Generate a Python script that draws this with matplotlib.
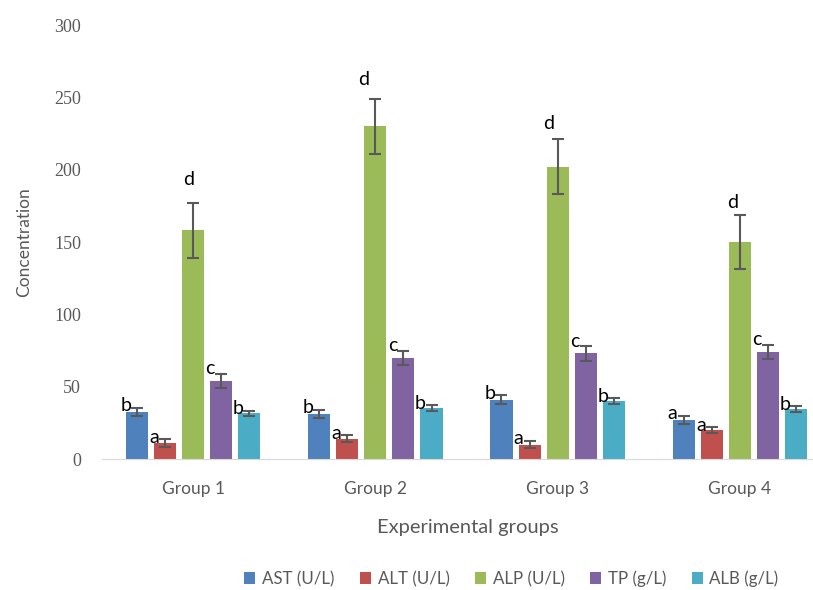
import numpy as np
import matplotlib.pyplot as plt

groups = ['Group 1', 'Group 2', 'Group 3', 'Group 4']
series = ['AST (U/L)', 'ALT (U/L)', 'ALP (U/L)', 'TP (g/L)', 'ALB (g/L)']
colors = ['#4F81BD', '#C0504D', '#9BBB59', '#8064A2', '#4BACC6']

ast = [32.5, 31, 41, 27]
alt = [11, 14, 10, 20]
alp = [158, 230, 202, 150]
tp = [54, 70, 73, 74]
alb = [31.5, 35, 40, 34.5]

ast_err = [3, 3, 3, 3]
alt_err = [2.5, 2.5, 2.5, 2]
alp_err = [19, 19, 19, 19]
tp_err = [5, 5, 5, 5]
alb_err = [2, 2, 2, 2]

ast_let = ['b', 'b', 'b', 'a']
alt_let = ['a', 'a', 'a', 'a']
alp_let = ['d', 'd', 'd', 'd']
tp_let = ['c', 'c', 'c', 'c']
alb_let = ['b', 'b', 'b', 'b']

values = [ast, alt, alp, tp, alb]
errors = [ast_err, alt_err, alp_err, tp_err, alb_err]
letters = [ast_let, alt_let, alp_let, tp_let, alb_let]

# the letters above the ALP bars were placed by hand in the original (points)
alp_off = [(-3.5, 17), (-8.5, 14), (-6.5, 11.5), (-5, 9)]

fig = plt.figure(figsize=(8.13, 5.9), dpi=100)
# the original picture is cut off on the right, so the axes run past the edge
ax = fig.add_axes([102 / 813, 131 / 590, 729 / 813, 434 / 590])

x = np.arange(len(groups))
width = 0.121
step = 0.154

for i in range(len(series)):
    pos = x + (i - 2) * step
    ax.bar(pos, values[i], width, color=colors[i], label=series[i], zorder=2)
    ax.errorbar(pos, values[i], yerr=errors[i], fmt='none', ecolor='#595959',
                elinewidth=1.5, capsize=4, capthick=1.5, zorder=3)
    for j in range(len(groups)):
        top = values[i][j] + errors[i][j]
        if i == 2:
            off = alp_off[j]
            xp = pos[j]
        else:
            off = (0, 3.5 if i == 3 else 1.5)
            xp = pos[j] - width / 2
        ax.annotate(letters[i][j], (xp, top), xytext=off, textcoords='offset points',
                    ha='center', va='center', fontsize=14, family='Lato', color='black')

ax.set_xlim(-0.5, 3.5)
ax.set_ylim(0, 300)
ax.set_yticks(range(0, 301, 50))
ax.set_xticks(x)
ax.set_xticklabels(groups, family='Lato', fontsize=12.5, color='#595959')
for lab in ax.get_yticklabels():
    lab.set_family('Liberation Serif')
    lab.set_fontsize(13)
    lab.set_color('#595959')
ax.tick_params(axis='both', length=0)
ax.tick_params(axis='y', pad=15)
ax.tick_params(axis='x', pad=16)

for s in ['top', 'right', 'left']:
    ax.spines[s].set_visible(False)
ax.spines['bottom'].set_color('#D9D9D9')

ax.set_ylabel('Concentration', family='Lato', fontsize=12.5, color='#595959')
ax.yaxis.set_label_coords(-(102 - 32) / 729, 0.5)
ax.set_xlabel('Experimental groups', family='Lato', fontsize=14.5, color='#595959')
ax.xaxis.set_label_coords((468 - 102) / 729, -(519 - 459) / 434)

leg = fig.legend(loc='center', bbox_to_anchor=(0.629, 0.019), ncol=5, frameon=False,
                 prop={'family': 'Lato', 'size': 12.2}, handlelength=0.65, handleheight=0.65,
                 handletextpad=0.4, columnspacing=1.5)
for t in leg.get_texts():
    t.set_color('#595959')

fig.savefig('out.png', dpi=100)
